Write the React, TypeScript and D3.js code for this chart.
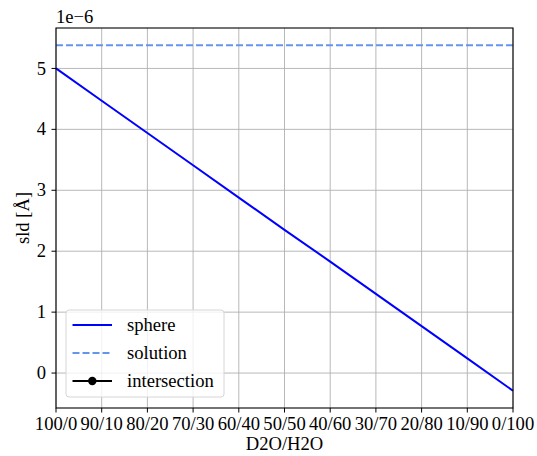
import React from "react";
import * as d3 from "d3";

// D2O/H2O mixing ratios (x ticks)
const ratios = ["100/0", "90/10", "80/20", "70/30", "60/40", "50/50", "40/60", "30/70", "20/80", "10/90", "0/100"];
// sld values in units of 1e-6
const sphereSld = [5.0, 4.47, 3.94, 3.41, 2.88, 2.35, 1.83, 1.3, 0.77, 0.24, -0.29];
const solutionSld = [5.38, 5.38, 5.38, 5.38, 5.38, 5.38, 5.38, 5.38, 5.38, 5.38, 5.38];
const intersection: { x: number; y: number }[] = [];
const yTicks = [0, 1, 2, 3, 4, 5];

const width = 537;
const height = 456;
const margin = { top: 28, right: 24, bottom: 48, left: 56 };
const font = "'Liberation Serif', 'Times New Roman', serif";
const fs = 18.6;

export default function App() {
  const x = d3
    .scaleLinear()
    .domain([0, ratios.length - 1])
    .range([margin.left, width - margin.right]);

  const all = [...sphereSld, ...solutionSld];
  const [lo, hi] = d3.extent(all) as [number, number];
  const pad = (hi - lo) * 0.05;
  const y = d3
    .scaleLinear()
    .domain([lo - pad, hi + pad])
    .range([height - margin.bottom, margin.top]);

  const line = d3
    .line<number>()
    .x((_, i) => x(i))
    .y((d) => y(d));

  const x0 = margin.left;
  const x1 = width - margin.right;
  const y0 = height - margin.bottom;
  const y1 = margin.top;

  const legend = [
    { label: "sphere", color: "#0000ff", dash: "none", marker: false },
    { label: "solution", color: "#6495ed", dash: "7,3", marker: false },
    { label: "intersection", color: "#000000", dash: "none", marker: true },
  ];
  const lgX = x0 + 10;
  const lgY = 310;

  return (
    <svg
      width={width}
      height={height}
      style={{ position: "absolute", left: 0, top: 0, background: "#fff", fontFamily: font }}
    >
      {/* grid */}
      <g stroke="#b0b0b0" strokeWidth={0.9}>
        {ratios.map((_, i) => (
          <line key={"gx" + i} x1={x(i)} x2={x(i)} y1={y0} y2={y1} />
        ))}
        {yTicks.map((t) => (
          <line key={"gy" + t} x1={x0} x2={x1} y1={y(t)} y2={y(t)} />
        ))}
      </g>

      {/* series */}
      <path d={line(sphereSld) || ""} fill="none" stroke="#0000ff" strokeWidth={2} />
      <path
        d={line(solutionSld) || ""}
        fill="none"
        stroke="#6495ed"
        strokeWidth={2}
        strokeDasharray="7,3"
      />
      {intersection.map((p, i) => (
        <circle key={i} cx={x(p.x)} cy={y(p.y)} r={4} fill="#000" />
      ))}

      {/* frame */}
      <rect x={x0} y={y1} width={x1 - x0} height={y0 - y1} fill="none" stroke="#000" strokeWidth={1.1} />

      {/* x axis */}
      {ratios.map((r, i) => (
        <g key={"xt" + i} transform={`translate(${x(i)},${y0})`}>
          <line y2={4.5} stroke="#000" />
          <text y={22} textAnchor="middle" fontSize={fs}>
            {r}
          </text>
        </g>
      ))}
      <text x={(x0 + x1) / 2} y={450} textAnchor="middle" fontSize={fs}>
        D2O/H2O
      </text>

      {/* y axis */}
      {yTicks.map((t) => (
        <g key={"yt" + t} transform={`translate(${x0},${y(t)})`}>
          <line x2={-4.5} stroke="#000" />
          <text x={-10} dy="0.33em" textAnchor="end" fontSize={fs}>
            {t}
          </text>
        </g>
      ))}
      <text
        transform={`translate(29,${(y0 + y1) / 2}) rotate(-90)`}
        textAnchor="middle"
        fontSize={fs}
      >
        sld [Å]
      </text>
      <text x={x0} y={23} fontSize={fs}>
        1e−6
      </text>

      {/* legend */}
      <rect
        x={lgX}
        y={lgY}
        width={158}
        height={87}
        rx={3}
        fill="#fff"
        fillOpacity={0.8}
        stroke="#d6d6d6"
        strokeWidth={1}
      />
      {legend.map((d, i) => {
        const cy = lgY + 15 + i * 28;
        return (
          <g key={d.label}>
            <line
              x1={lgX + 6.5}
              x2={lgX + 46}
              y1={cy}
              y2={cy}
              stroke={d.color}
              strokeWidth={2}
              strokeDasharray={d.dash === "none" ? undefined : d.dash}
            />
            {d.marker && <circle cx={lgX + 26.3} cy={cy} r={4.2} fill={d.color} />}
            <text x={lgX + 61} y={cy} dy="0.33em" fontSize={fs}>
              {d.label}
            </text>
          </g>
        );
      })}
    </svg>
  );
}
